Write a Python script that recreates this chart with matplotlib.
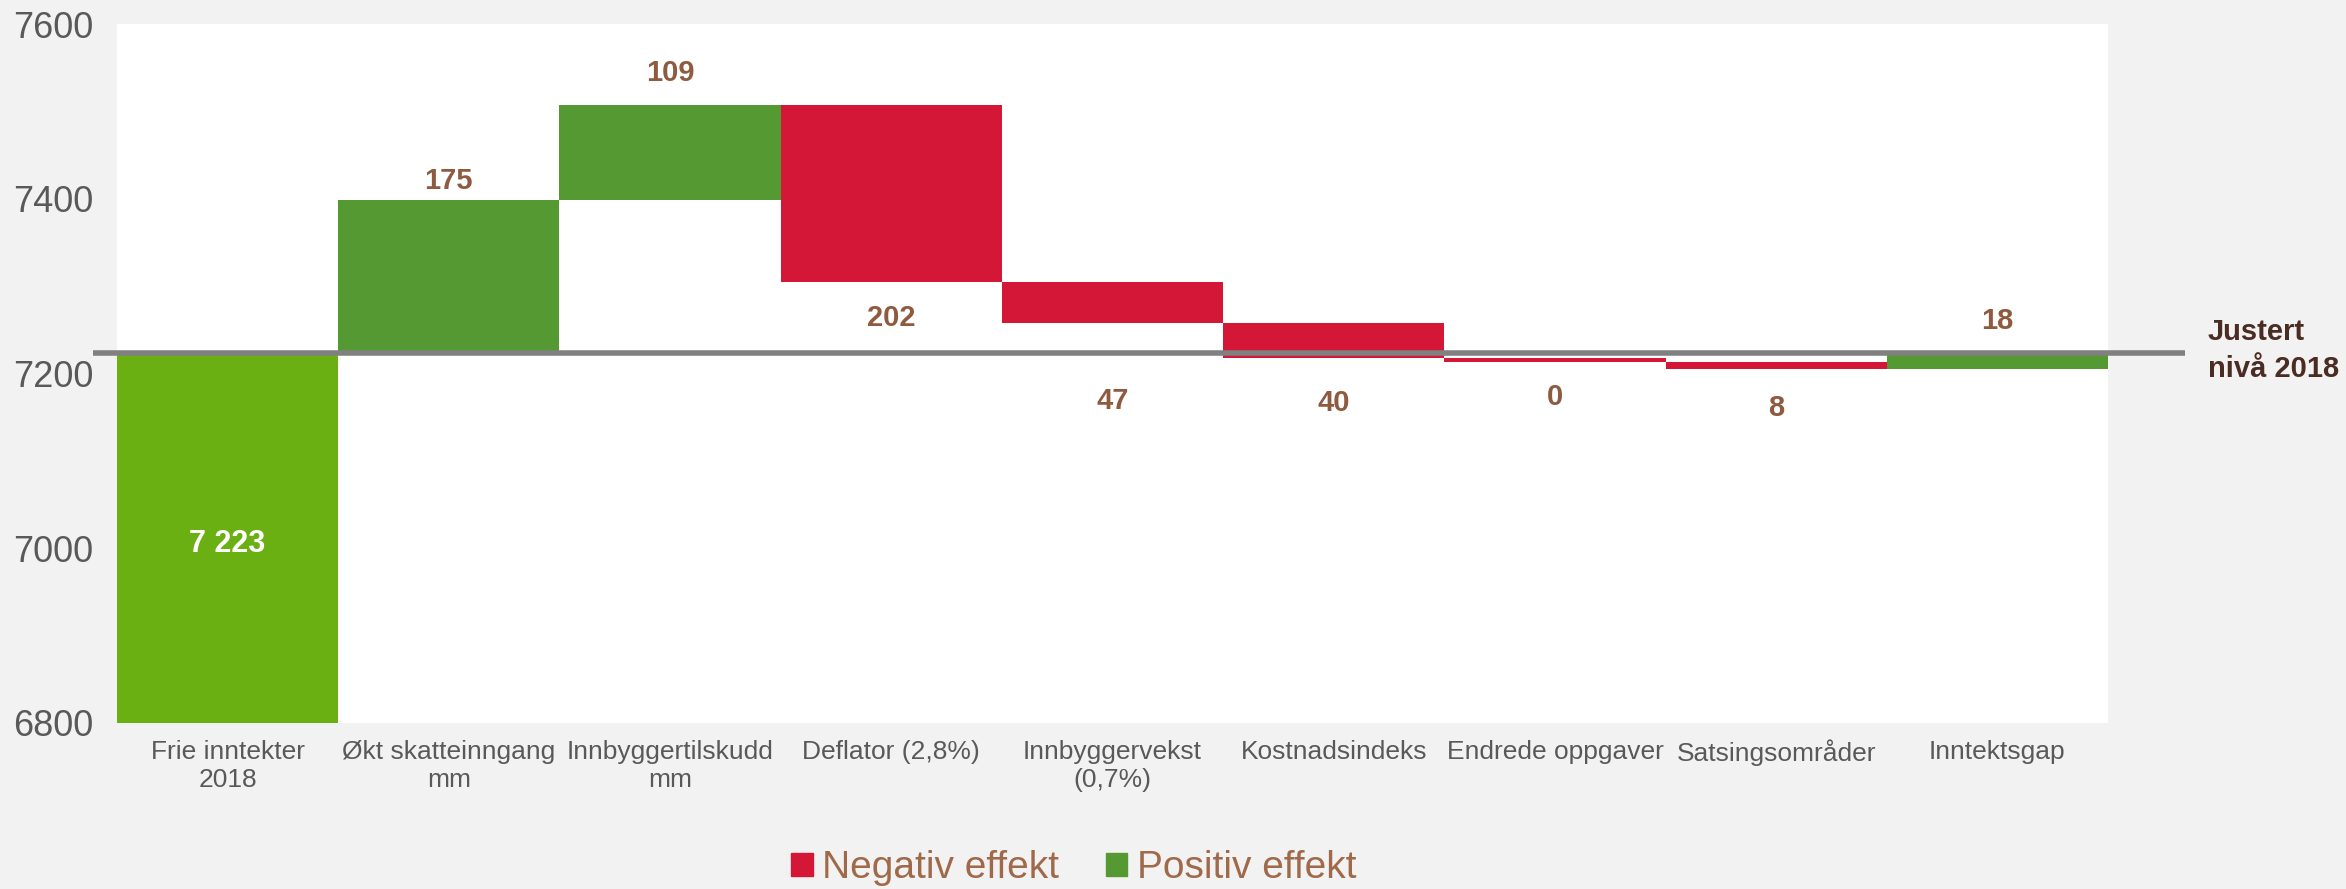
import matplotlib
matplotlib.use("Agg")
import matplotlib.pyplot as plt
from matplotlib.patches import Patch

categories = ["Frie inntekter\n2018", "Økt skatteinngang\nmm", "Innbyggertilskudd\nmm",
              "Deflator (2,8%)", "Innbyggervekst\n(0,7%)", "Kostnadsindeks",
              "Endrede oppgaver", "Satsingsområder", "Inntektsgap"]
changes = [7223, 175, 109, -202, -47, -40, -5, -8, 18]
value_labels = ["7 223", "175", "109", "202", "47", "40", "0", "8", "18"]
level_line = 7223
yticks = [6800, 7000, 7200, 7400, 7600]

# label offsets from the bar end (data units), purely layout
label_offsets = [0, 22, 37, -42, -90, -52, -40, -45, 37]

plt.rcParams['font.family'] = ['Liberation Sans', 'DejaVu Sans']

W, H = 2346, 889
fig = plt.figure(figsize=(W / 100, H / 100), dpi=100)
fig.patch.set_facecolor("#F2F2F2")
ax = fig.add_axes([117 / W, 1 - 723 / H, (2108 - 117) / W, (723 - 24) / H])
ax.set_facecolor("white")

base_col = "#6AB012"
pos_col = "#559932"
neg_col = "#D51737"
lab_col = "#8E5B40"

ymin = 6800
running = 0
for i, v in enumerate(changes):
    if i == 0:
        ax.bar(i, v - ymin, bottom=ymin, width=1.0, color=base_col, linewidth=0)
        running = v
        ax.text(i, 7005, value_labels[i], ha="center", va="center", color="white",
                fontsize=22, fontweight="bold")
        continue
    start = running
    end = running + v
    lo, hi = min(start, end), max(start, end)
    col = pos_col if v >= 0 else neg_col
    ax.bar(i, hi - lo, bottom=lo, width=1.0, color=col, linewidth=0)
    if v >= 0:
        ly = hi + label_offsets[i]
    else:
        ly = lo + label_offsets[i]
    ax.text(i, ly, value_labels[i], ha="center", va="center", color=lab_col,
            fontsize=21, fontweight="bold")
    running = end

ax.plot([-0.61, 8.85], [level_line, level_line], color="#808080", lw=4, clip_on=False,
        solid_capstyle="butt", zorder=5)

ax.text(8.95, level_line + 3, "Justert\nnivå 2018", ha="left", va="center",
        color="#4A2C22", fontsize=21, fontweight="bold", linespacing=1.4)

ax.set_xlim(-0.5, 8.5)
ax.set_ylim(6800, 7600)
ax.set_yticks(yticks)
ax.set_xticks(range(len(categories)))
ax.set_xticklabels(categories, fontsize=19, color="#595959", linespacing=1.25)
ax.tick_params(axis="y", length=0, pad=17, labelsize=26, labelcolor="#595959")
ax.tick_params(axis="x", length=0, pad=12)
for s in ax.spines.values():
    s.set_visible(False)

handles = [Patch(color=neg_col, label="Negativ effekt"), Patch(color=pos_col, label="Positiv effekt")]
leg = fig.legend(handles=handles, loc="center", bbox_to_anchor=(1074 / W, 1 - 868 / H), ncol=2,
                 frameon=False, fontsize=28, handlelength=0.55, handleheight=0.55,
                 handletextpad=0.25, columnspacing=1.2)
for t in leg.get_texts():
    t.set_color("#A0694A")

fig.savefig("out.png", dpi=100, facecolor=fig.get_facecolor())
